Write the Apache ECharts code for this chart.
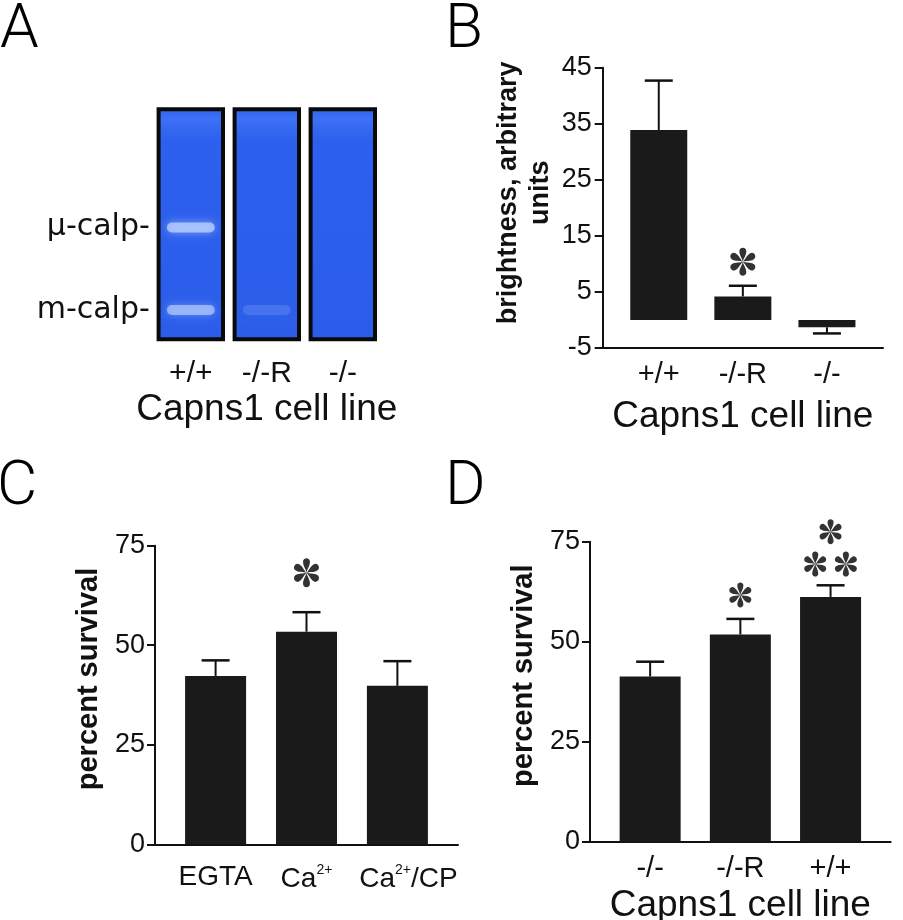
<!DOCTYPE html>
<html>
<head>
<meta charset="utf-8">
<script src="https://cdn.jsdelivr.net/npm/echarts@6/dist/echarts.min.js"></script>
<style>
  html, body { margin: 0; padding: 0; background: #fff; }
  #chart { width: 903px; height: 920px; }
</style>
</head>
<body>
<div id="chart"></div>
<script>
// ---- data ----
// A: zymogram lanes
var gelLanes = ['+/+', '-/-R', '-/-'];
var gelBandNames = ['μ-calp-', 'm-calp-'];
var gelBandPos = [0.486, 0.134];     // migration, 0 = bottom of lane, 1 = top
var muBand = [1, 0, 0];              // band brightness per lane
var mBand = [0.85, 0.22, 0];

// B: brightness
var bCats = ['+/+', '-/-R', '-/-'];
var bMean = [33.9, 4.2, -1.3];
var bErr = [42.7, 6.1, -2.4];
var bTicks = [-5, 5, 15, 25, 35, 45];
var bStars = [[2, 10.4]];

// C: survival by treatment
var cCats = ['EGTA', 'Ca2+', 'Ca2+/CP'];
var cMean = [42.3, 53.4, 39.8];
var cErr = [46.2, 58.3, 46.0];
var cTicks = [0, 25, 50, 75];
var cStars = [[2, 68.2]];

// D: survival by cell line
var dCats = ['-/-', '-/-R', '+/+'];
var dMean = [41.3, 51.8, 61.2];
var dErr = [45.0, 55.7, 64.1];
var dTicks = [0, 25, 50, 75];
var dStars = [[2, 61.7], [3, 77.5], [2.83, 69.4], [3.17, 69.4]];

var FONT = 'Liberation Sans, Arial, sans-serif';
var INK = '#111';
var BAR = '#1a1a1a';

var myChart = echarts.init(document.getElementById('chart'));

// six teardrop petals, like the asterisk used in the figure
function asteriskPath() {
  var petal = [[0, 0], [0.24, 0.04], [0.44, 0.25], [0.75, 0.25], [1.08, 0.25], [1.08, -0.25],
               [0.75, -0.25], [0.44, -0.25], [0.24, -0.04], [0, 0]];
  var d = '';
  for (var k = 0; k < 6; k++) {
    var a = (90 + 60 * k) * Math.PI / 180, c = Math.cos(a), s = Math.sin(a);
    var p = petal.map(function (q) {
      return (50 + 50 * (q[0] * c - q[1] * s)).toFixed(2) + ' ' + (50 - 50 * (q[0] * s + q[1] * c)).toFixed(2);
    });
    d += 'M' + p[0] + 'C' + p[1] + ' ' + p[2] + ' ' + p[3] + 'C' + p[4] + ' ' + p[5] + ' ' + p[6] +
         'C' + p[7] + ' ' + p[8] + ' ' + p[9] + 'Z';
  }
  return 'path://' + d;
}
var STAR = asteriskPath();

// "Ca2+" -> rich text with a superscript charge
function richLabel(s, idx) {
  var out = s.split('2+').map(function (p) { return p ? '{n|' + p + '}' : ''; }).join('{s|2+}');
  // the last label sits a little right of its bar in the original
  return idx === 2 ? out.replace('{n|', '{np|') : out;
}

function renderLane(params, api) {
  var i = api.value(0);
  var top = api.coord([i, 1]), bot = api.coord([i, 0]);
  var w = api.size([1, 0])[0] * 0.9;
  var x0 = top[0] - w / 2;
  var children = [{
    type: 'rect',
    shape: { x: x0 + 2, y: top[1] + 2, width: w - 4, height: bot[1] - top[1] - 4 },
    style: {
      fill: new echarts.graphic.LinearGradient(0, 0, 0, 1, [
        { offset: 0, color: '#2e62f0' },
        { offset: 0.05, color: '#3d70f4' },
        { offset: 0.14, color: '#2d60ee' },
        { offset: 1, color: '#2b5dea' }
      ]),
      stroke: '#0a0a0a',
      lineWidth: 4
    }
  }];
  [api.value(1), api.value(2)].forEach(function (v, k) {
    if (v <= 0) return;
    var y = api.coord([i, gelBandPos[k]])[1];
    var col = 'rgba(190,212,255,' + (0.75 * v).toFixed(2) + ')';
    children.push({
      type: 'rect',
      shape: { x: top[0] - w * 0.35, y: y - 5, width: w * 0.7, height: 10, r: 5 },
      style: { fill: col, shadowBlur: 9, shadowColor: col }
    });
  });
  return { type: 'group', children: children };
}

function renderErr(params, api) {
  var p0 = api.coord([api.value(0), api.value(1)]);
  var p1 = api.coord([api.value(0), api.value(2)]);
  return {
    type: 'group',
    children: [
      { type: 'line', shape: { x1: p0[0], y1: p0[1], x2: p1[0], y2: p1[1] }, style: { stroke: INK, lineWidth: 2 } },
      { type: 'line', shape: { x1: p1[0] - 14, y1: p1[1], x2: p1[0] + 14, y2: p1[1] }, style: { stroke: INK, lineWidth: 2.5 } }
    ]
  };
}

function xCatAxis(grid, cats, opt) {
  return Object.assign({
    gridIndex: grid, type: 'value', min: 1 / 3, max: 11 / 3,
    splitLine: { show: false },
    axisLine: { onZero: false, lineStyle: { color: INK, width: 2 } },
    axisTick: { show: false },
    axisLabel: {
      customValues: [1, 2, 3],
      formatter: function (v) { return cats[Math.round(v) - 1]; },
      color: INK, fontFamily: FONT, fontSize: 29, margin: 12
    },
    nameLocation: 'middle',
    nameTextStyle: { color: INK, fontFamily: FONT, fontSize: 37 }
  }, opt);
}

function yValAxis(grid, ticks, opt) {
  return Object.assign({
    gridIndex: grid, type: 'value',
    min: ticks[0], max: ticks[ticks.length - 1], interval: ticks[1] - ticks[0],
    splitLine: { show: false },
    axisLine: { show: true, onZero: false, lineStyle: { color: INK, width: 2 } },
    axisTick: { show: true, length: 8, lineStyle: { color: INK, width: 2 } },
    axisLabel: { color: INK, fontFamily: FONT, fontSize: 27, margin: 10 },
    nameLocation: 'middle',
    nameTextStyle: { color: INK, fontFamily: FONT, fontWeight: 'bold', fontSize: 29, padding: [0, 0, 0, 32] }
  }, opt);
}

function panelSeries(axisIdx, means, errs, stars, barW, starSize) {
  return [
    {
      type: 'bar', xAxisIndex: axisIdx, yAxisIndex: axisIdx, barWidth: barW,
      itemStyle: { color: BAR },
      data: means.map(function (v, i) { return [i + 1, v]; })
    },
    {
      type: 'custom', xAxisIndex: axisIdx, yAxisIndex: axisIdx, renderItem: renderErr, z: 3,
      data: means.map(function (v, i) { return [i + 1, v, errs[i]]; })
    },
    {
      type: 'scatter', xAxisIndex: axisIdx, yAxisIndex: axisIdx, clip: false,
      symbol: STAR, symbolSize: starSize, itemStyle: { color: '#000' },
      data: stars
    }
  ];
}

var letterStyle = { color: '#000', fontFamily: 'Roboto, ' + FONT, fontSize: 62, fontWeight: 300 };

myChart.setOption({
  animation: false,
  backgroundColor: '#fff',
  title: [
    { text: 'A', left: 0, top: 0, padding: 0, textStyle: letterStyle },
    { text: 'B', left: 445, top: 0, padding: 0, textStyle: letterStyle },
    { text: 'C', left: -3, top: 457, padding: 0, textStyle: letterStyle },
    { text: 'D', left: 445, top: 457, padding: 0, textStyle: letterStyle }
  ],
  grid: [
    { left: 152.8, top: 107.3, width: 228, height: 234, outerBoundsMode: 'none' },
    { left: 602.7, top: 67.7, width: 280.3, height: 280.3, outerBoundsMode: 'none' },
    { left: 155, top: 545.7, width: 303, height: 298.6, outerBoundsMode: 'none' },
    { left: 590, top: 541.7, width: 300.7, height: 300, outerBoundsMode: 'none' }
  ],
  xAxis: [
    {
      gridIndex: 0, type: 'category', data: gelLanes,
      axisLine: { show: false }, axisTick: { show: false },
      axisLabel: { color: INK, fontFamily: FONT, fontSize: 30, margin: 17 },
      name: 'Capns1 cell line', nameLocation: 'middle', nameGap: 50,
      nameTextStyle: { color: INK, fontFamily: FONT, fontSize: 37 }
    },
    xCatAxis(1, bCats, { name: 'Capns1 cell line', nameGap: 50 }),
    xCatAxis(2, cCats, {
      axisLabel: {
        customValues: [1, 2, 3],
        formatter: function (v) { var i = Math.round(v) - 1; return richLabel(cCats[i], i); },
        margin: 19,
        rich: {
          n: { color: INK, fontFamily: FONT, fontSize: 28 },
          np: { color: INK, fontFamily: FONT, fontSize: 28, padding: [0, 0, 0, 22] },
          s: { color: INK, fontFamily: FONT, fontSize: 14, padding: [0, 0, 17, 0] }
        }
      }
    }),
    xCatAxis(3, dCats, { name: 'Capns1 cell line', nameGap: 46, axisLabel: {
      customValues: [1, 2, 3],
      formatter: function (v) { return dCats[Math.round(v) - 1]; },
      color: INK, fontFamily: FONT, fontSize: 29, margin: 13
    } })
  ],
  yAxis: [
    {
      gridIndex: 0, type: 'value', min: 0, max: 1,
      axisLine: { show: false }, axisTick: { show: false }, splitLine: { show: false },
      axisLabel: {
        customValues: gelBandPos,
        formatter: function (v) { return gelBandNames[gelBandPos.indexOf(v)]; },
        color: INK, fontFamily: 'DejaVu Sans, sans-serif', fontSize: 30, margin: 3
      }
    },
    yValAxis(1, bTicks, {
      name: 'brightness, arbitrary\nunits', nameGap: 46,
      axisLabel: { color: INK, fontFamily: FONT, fontSize: 27, margin: 11 },
      nameTextStyle: { color: INK, fontFamily: FONT, fontWeight: 'bold', fontSize: 27, lineHeight: 32, padding: [0, 0, 0, 30] }
    }),
    yValAxis(2, cTicks, { name: 'percent survival', nameGap: 52 }),
    yValAxis(3, dTicks, { name: 'percent survival', nameGap: 52 })
  ],
  series: [
    {
      type: 'custom', xAxisIndex: 0, yAxisIndex: 0, renderItem: renderLane,
      data: gelLanes.map(function (l, i) { return [i, muBand[i], mBand[i]]; })
    }
  ].concat(
    panelSeries(1, bMean, bErr, bStars, 57, [25, 28]),
    panelSeries(2, cMean, cErr, cStars, 61, [25, 29]),
    panelSeries(3, dMean, dErr, dStars, 61, [22, 25])
  )
});
</script>
</body>
</html>
